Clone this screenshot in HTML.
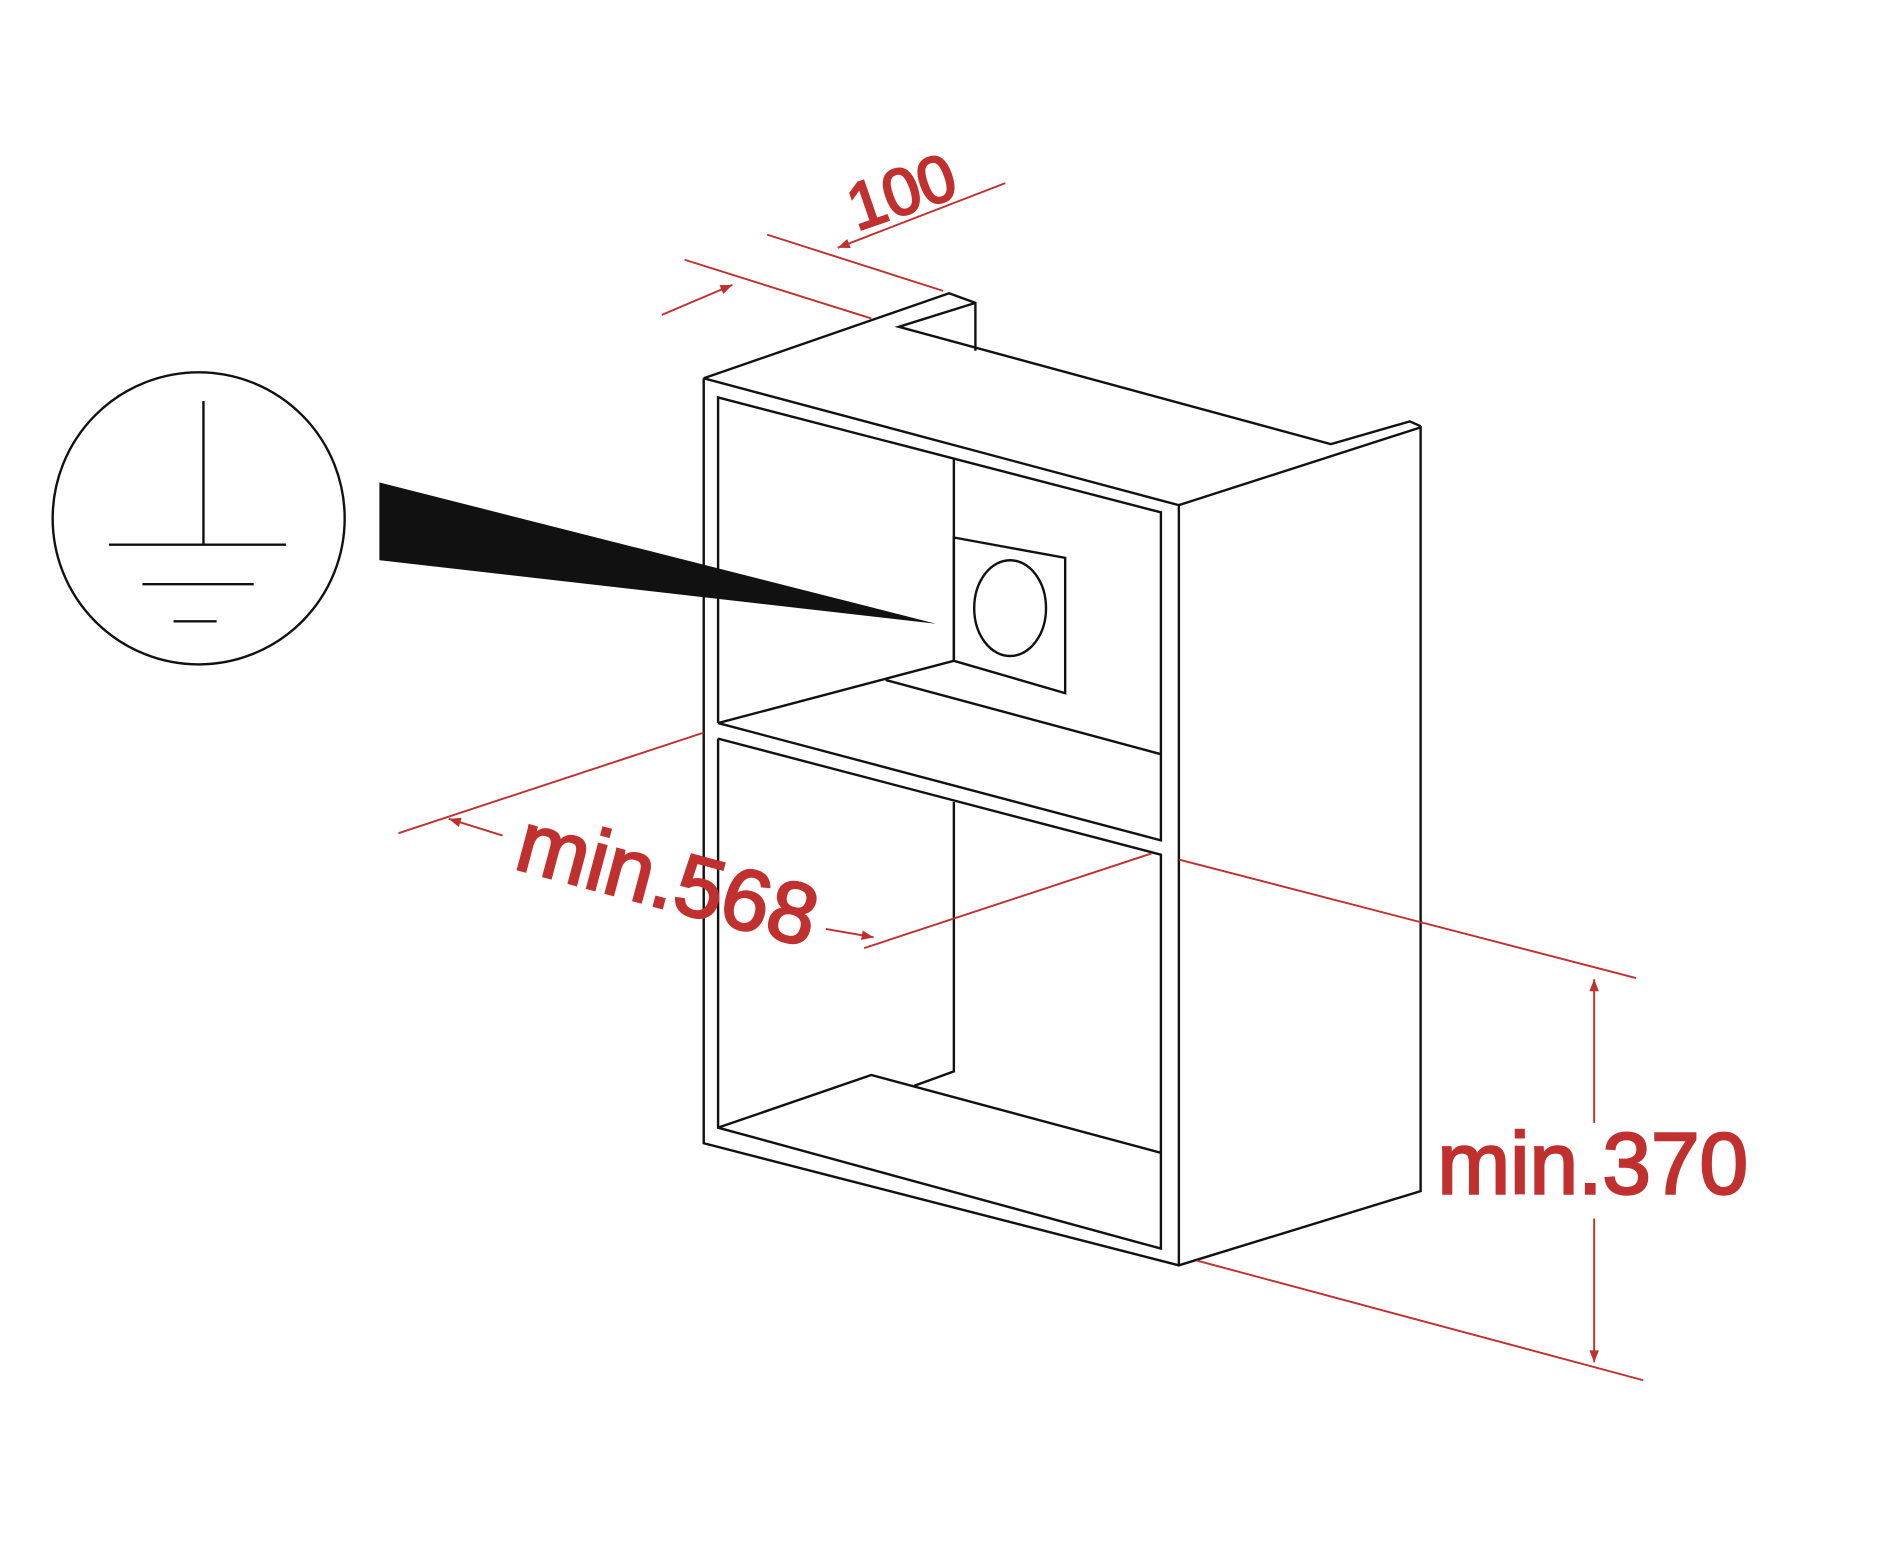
<!DOCTYPE html>
<html><head><meta charset="utf-8"><style>html,body{margin:0;padding:0;background:#fff}svg{display:block}</style></head>
<body>
<svg width="1879" height="1567" viewBox="0 0 1570 1309" preserveAspectRatio="none" xmlns="http://www.w3.org/2000/svg">
<defs>
<marker id="a" viewBox="0 0 10 10" refX="10" refY="5" markerWidth="14" markerHeight="10" markerUnits="userSpaceOnUse" orient="auto"><path d="M0,1 L10,5 L0,9 Z" fill="#c0302e"/></marker>
</defs>
<g fill="none" stroke="#111" stroke-width="2">
<polyline points="588,316 793,245 815,253 815,293"/>
<polyline points="815,253 751,273 1112,371 1178,352 1187,356"/>
<polyline points="588,316 985,422 1187,357 1187,995 985,1057 588,955 588,316"/>
<line x1="985" y1="422" x2="985" y2="1057"/>
<polyline points="600,604 600,332 970,428 970,702 600,604"/>
<polyline points="600,617 970,714 970,1043 600,942 600,617"/>
<polyline points="797,383 797,552 600,604"/>
<line x1="740" y1="568" x2="970" y2="630"/>
<polyline points="797,670 797,895 764,907"/>
<polyline points="600,942 728,898 970,963"/>
<polygon points="797,449 890,466 890,579 797,552"/>
<ellipse cx="844" cy="508" rx="30" ry="40"/>
<ellipse cx="166" cy="433" rx="122" ry="122"/>
<line x1="170" y1="335" x2="170" y2="455"/>
<line x1="91" y1="455" x2="239" y2="455"/>
<line x1="119" y1="488" x2="212" y2="488"/>
<line x1="145" y1="519" x2="181" y2="519"/>
</g>
<polygon points="317,403 782,521 317,468" fill="#111"/>
<g stroke="#c0302e" stroke-width="1.6" fill="none">
<line x1="572" y1="217" x2="728" y2="266"/>
<line x1="641" y1="196" x2="788" y2="243"/>
<line x1="553" y1="263" x2="612" y2="238" marker-end="url(#a)"/>
<line x1="840" y1="153" x2="700" y2="207" marker-end="url(#a)"/>
<line x1="333" y1="696" x2="588" y2="612"/>
<line x1="420" y1="698" x2="375" y2="684" marker-end="url(#a)"/>
<line x1="690" y1="776" x2="730" y2="783" marker-end="url(#a)"/>
<line x1="722" y1="792" x2="962" y2="713"/>
<line x1="985" y1="718" x2="1367" y2="817"/>
<line x1="1000" y1="1053" x2="1373" y2="1153"/>
<line x1="1332" y1="938" x2="1332" y2="818" marker-end="url(#a)"/>
<line x1="1332" y1="1018" x2="1332" y2="1138" marker-end="url(#a)"/>
</g>
<g fill="#c0302e" stroke="#c0302e" stroke-width="2" font-family="Liberation Sans, sans-serif">
<text x="716" y="193" font-size="55" transform="rotate(-19 716 193)">100</text>
<text x="428" y="725" font-size="72" transform="rotate(15 428 725)">min.568</text>
<text x="1201" y="997" font-size="73">min.370</text>
</g>
</svg>
</body></html>
